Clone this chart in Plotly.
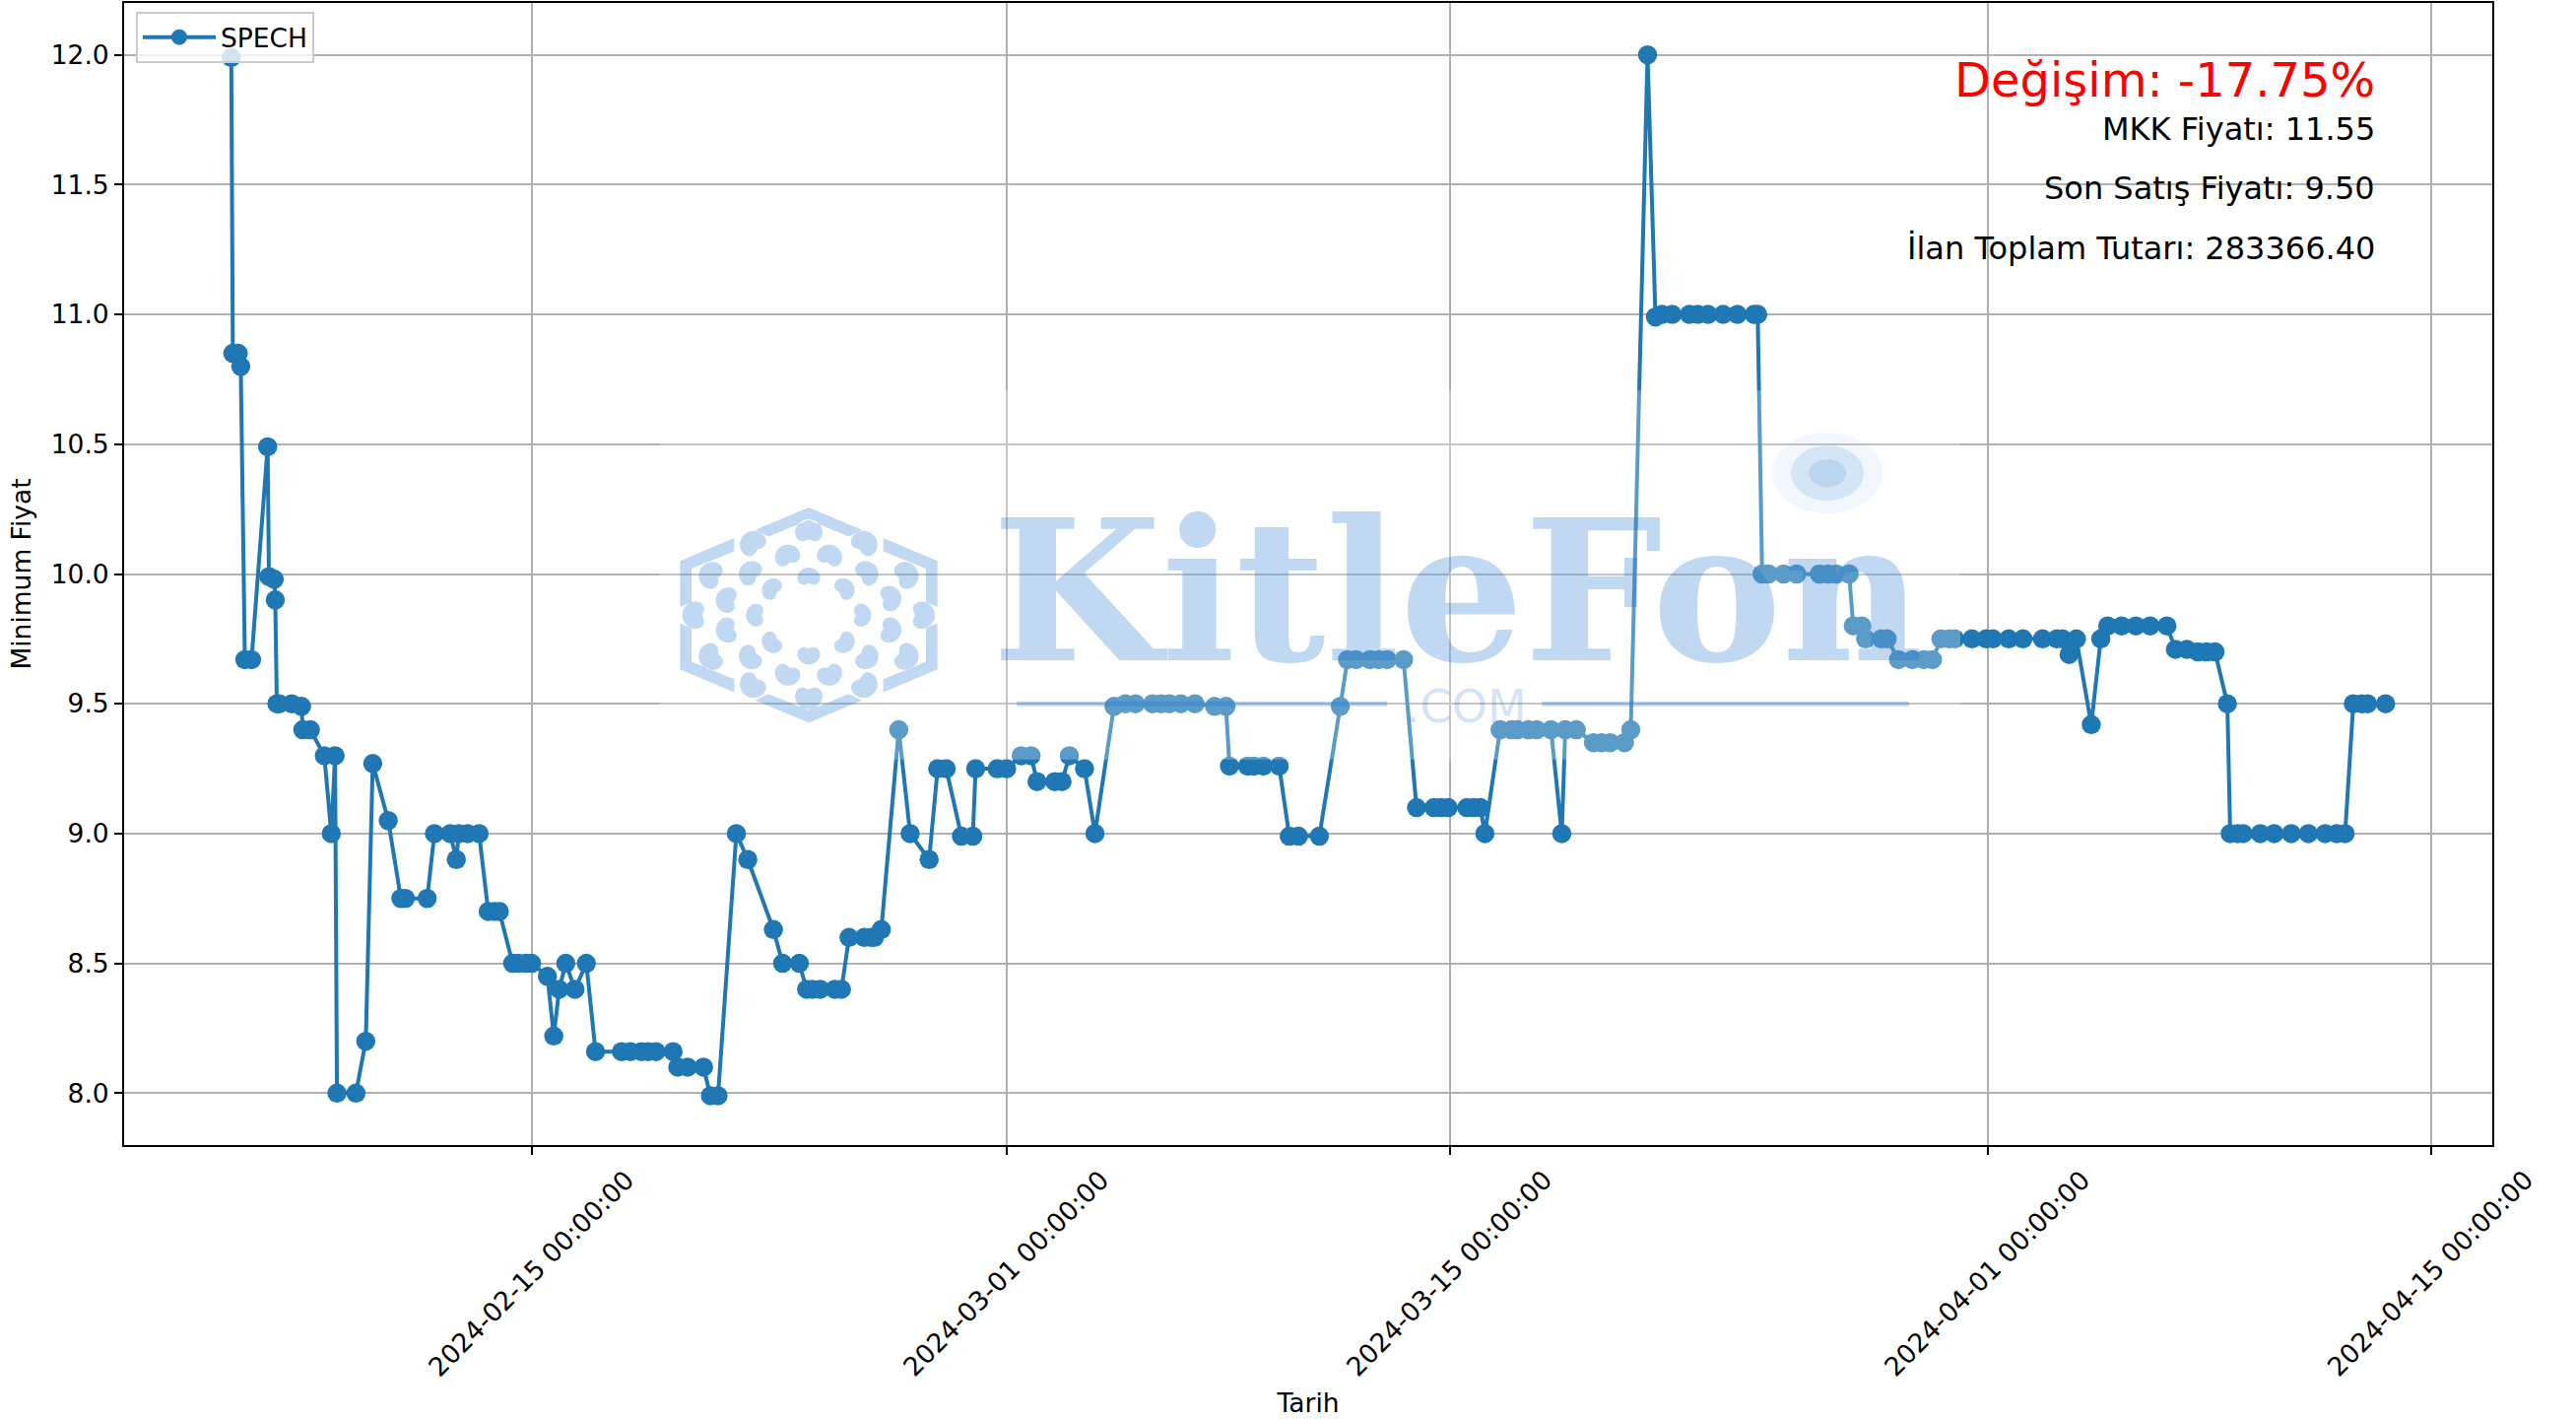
import numpy as np
import pandas as pd
import plotly.graph_objects as go

W, H = 2615, 1440
L, R, T, B = 126, 2530, 1, 1162

# Offsets in days from 2024-02-15 and the minimum price at each point
start_date = "2024-02-15"
days = [
    -9.50, -9.45, -9.28, -9.20, -9.07, -8.86, -8.35, -8.31, -8.14, -8.11, -8.06, -7.98,
    -7.59, -7.28, -7.24, -7.00, -6.56, -6.34, -6.22, -6.16, -5.56, -5.25, -5.03, -4.54,
    -4.14, -4.00, -3.31, -3.08, -2.58, -2.39, -2.31, -2.03, -1.67, -1.38, -1.19, -1.03,
    -0.61, -0.43, -0.19, -0.01, 0.49, 0.69, 0.86, 1.07, 1.36, 1.72, 2.01, 2.83,
    3.11, 3.46, 3.67, 3.92, 4.46, 4.61, 4.92, 5.42, 5.64, 5.88, 6.46, 6.82,
    7.63, 7.92, 8.45, 8.68, 8.86, 9.11, 9.57, 9.78, 10.02, 10.50, 10.71, 10.82,
    11.04, 11.59, 11.95, 12.55, 12.82, 13.09, 13.57, 13.93, 14.02, 14.70, 15.00, 15.46,
    15.77, 15.96, 16.52, 16.75, 16.98, 17.46, 17.79, 18.39, 18.75, 19.07, 19.61, 19.88,
    20.14, 20.50, 20.95, 21.57, 21.93, 22.04, 22.61, 22.82, 23.11, 23.61, 23.93, 24.22,
    24.88, 25.54, 25.77, 26.04, 26.48, 26.75, 27.02, 27.54, 27.95, 28.50, 28.72, 28.95,
    29.54, 29.75, 29.97, 30.11, 30.59, 30.95, 31.13, 31.48, 31.75, 32.20, 32.54, 32.65,
    33.00, 33.54, 33.80, 34.07, 34.52, 34.72, 35.25, 35.50, 35.71, 36.03, 36.57, 36.84,
    37.16, 37.64, 38.09, 38.62, 38.73, 38.87, 39.07, 39.55, 39.96, 40.68, 40.95, 41.21,
    41.62, 41.75, 42.02, 42.14, 42.64, 42.82, 43.18, 43.62, 43.98, 44.25, 44.52, 44.79,
    44.96, 45.50, 45.95, 46.16, 46.66, 47.11, 47.73, 48.18, 48.36, 48.57, 48.80, 49.27,
    49.57, 49.79, 50.23, 50.68, 51.13, 51.66, 51.93, 52.29, 52.64, 52.91, 53.18, 53.57,
    53.66, 53.89, 54.07, 54.61, 55.05, 55.59, 56.13, 56.66, 57.02, 57.29, 57.55, 57.82,
    58.00, 58.57,
]
prices = [
    11.99, 10.85, 10.85, 10.80, 9.67, 9.67, 10.49, 9.99, 9.98, 9.90, 9.50, 9.50,
    9.50, 9.49, 9.40, 9.40, 9.30, 9.00, 9.30, 8.00, 8.00, 8.20, 9.27, 9.05,
    8.75, 8.75, 8.75, 9.00, 9.00, 8.90, 9.00, 9.00, 9.00, 8.70, 8.70, 8.70,
    8.50, 8.50, 8.50, 8.50, 8.45, 8.22, 8.40, 8.50, 8.40, 8.50, 8.16, 8.16,
    8.16, 8.16, 8.16, 8.16, 8.16, 8.10, 8.10, 8.10, 7.99, 7.99, 9.00, 8.90,
    8.63, 8.50, 8.50, 8.40, 8.40, 8.40, 8.40, 8.40, 8.60, 8.60, 8.60, 8.60,
    8.63, 9.40, 9.00, 8.90, 9.25, 9.25, 8.99, 8.99, 9.25, 9.25, 9.25, 9.30,
    9.30, 9.20, 9.20, 9.20, 9.30, 9.25, 9.00, 9.49, 9.50, 9.50, 9.50, 9.50,
    9.50, 9.50, 9.50, 9.49, 9.49, 9.26, 9.26, 9.26, 9.26, 9.26, 8.99, 8.99,
    8.99, 9.49, 9.67, 9.67, 9.67, 9.67, 9.67, 9.67, 9.10, 9.10, 9.10, 9.10,
    9.10, 9.10, 9.10, 9.00, 9.40, 9.40, 9.40, 9.40, 9.40, 9.40, 9.00, 9.40,
    9.40, 9.35, 9.35, 9.35, 9.35, 9.40, 12.00, 10.99, 11.00, 11.00, 11.00, 11.00,
    11.00, 11.00, 11.00, 11.00, 11.00, 10.00, 10.00, 10.00, 10.00, 10.00, 10.00, 10.00,
    10.00, 9.80, 9.80, 9.75, 9.75, 9.75, 9.67, 9.67, 9.67, 9.67, 9.75, 9.75,
    9.75, 9.75, 9.75, 9.75, 9.75, 9.75, 9.75, 9.75, 9.75, 9.69, 9.75, 9.42,
    9.75, 9.80, 9.80, 9.80, 9.80, 9.80, 9.71, 9.71, 9.70, 9.70, 9.70, 9.50,
    9.00, 9.00, 9.00, 9.00, 9.00, 9.00, 9.00, 9.00, 9.00, 9.00, 9.50, 9.50,
    9.50, 9.50,
]
series_name = "SPECH"
x_ticks = ["2024-02-15", "2024-03-01", "2024-03-15", "2024-04-01", "2024-04-15"]
x_tick_labels = [d + " 00:00:00" for d in x_ticks]
info_lines = ["MKK Fiyatı: 11.55", "Son Satış Fiyatı: 9.50", "İlan Toplam Tutarı: 283366.40"]
change_text = "Değişim: -17.75%"

dates = pd.Timestamp(start_date) + pd.to_timedelta(days, unit="D")
x_dates = [d.strftime("%Y-%m-%d %H:%M:%S") for d in dates]


def px(x, y):
    """Page pixel to paper fraction."""
    return (x - L) / (R - L), 1 - (y - T) / (B - T)


def path_of(points):
    out = []
    for i, (x, y) in enumerate(points):
        u, v = px(x, y)
        out.append(("M" if i == 0 else "L") + f"{u:.5f},{v:.5f}")
    return " ".join(out) + " Z"


def logo_pt(zx, zy):
    return 660 + zx / 3, 490 + zy / 3


WM = "rgba(21,111,208,0.27)"
FS = 26.5
shapes = []
# White veil of the watermark picture
vx0, vy0 = px(670, 395)
vx1, vy1 = px(1990, 770)
shapes.append(dict(type="rect", xref="paper", yref="paper", x0=vx0, x1=vx1, y0=vy0, y1=vy1,
                   fillcolor="rgba(255,255,255,0.27)", line_width=0, layer="above"))

# Hexagon outline, in mirrored chevrons
cx, cy = 483, 400
top = [(320, 140), (483, 72), (645, 140), (605, 160), (483, 110), (360, 160)]
side = [(710, 165), (875, 235), (875, 375), (840, 360), (840, 258), (710, 205)]
parts = []
for sy in (1, -1):
    for sx in (1, -1):
        parts.append([logo_pt(cx + sx * (a - cx), cy + sy * (b - cy)) for a, b in side])
    parts.append([logo_pt(a, cy + sy * (b - cy)) for a, b in top])

# Crescents of the rosette
ring_a = [(483, 293), (585, 325), (635, 400), (585, 478), (483, 512), (378, 478), (330, 400), (378, 325)]
ring_b = [(545, 225), (655, 275), (725, 350), (725, 445), (655, 525), (545, 575),
          (420, 575), (310, 525), (240, 445), (240, 355), (310, 275), (420, 225)]
ring_c = [(483, 150), (650, 185), (775, 280), (825, 400), (775, 525), (650, 610),
          (483, 645), (315, 610), (190, 525), (140, 400), (190, 280), (315, 185)]
for ring, rad, depth, spread in ((ring_a, 38, 0.75, 1.3), (ring_b, 40, 0.62, 0.8), (ring_c, 42, 0.55, 0.6)):
    for a, b in ring:
        t0 = np.arctan2(cy - b, cx - a)
        t = np.linspace(-np.pi, np.pi, 60, endpoint=False)
        r = rad * (1 - depth * np.exp(-(t ** 2) / spread))
        parts.append([logo_pt(a + ri * np.cos(ti + t0), b + ri * np.sin(ti + t0)) for ri, ti in zip(r, t)])

shapes.append(dict(type="path", xref="paper", yref="paper", layer="above", line_width=0, fillcolor=WM,
                   path=" ".join(path_of(p) for p in parts)))

# Lines either side of .COM
for a, b in ((1032, 1408), (1565, 1938)):
    u0, v0 = px(a, 711)
    u1, v1 = px(b, 716)
    shapes.append(dict(type="rect", xref="paper", yref="paper", x0=u0, x1=u1, y0=v0, y1=v1,
                       fillcolor=WM, line_width=0, layer="above"))

# Soft dot above the n
for rx, ry, col in ((56, 41, "rgba(21,111,208,0.06)"), (37, 28, "rgba(21,111,208,0.13)"), (19, 14, "rgba(21,111,208,0.13)")):
    u0, v0 = px(1855 - rx, 479 - ry)
    u1, v1 = px(1855 + rx, 479 + ry)
    shapes.append(dict(type="circle", xref="paper", yref="paper", x0=u0, x1=u1, y0=v0, y1=v1,
                       fillcolor=col, line_width=0, layer="above"))

fig = go.Figure(go.Scatter(
    x=x_dates, y=prices, name=series_name, mode="lines+markers",
    line=dict(color="#1f77b4", width=4),
    marker=dict(color="#1f77b4", size=19.5, line=dict(width=0)),
))

annotations = []
for d, lab in zip(x_ticks, x_tick_labels):
    annotations.append(dict(x=d, y=0, xref="x", yref="paper", text=lab, showarrow=False, textangle=-45,
                            xanchor="center", yanchor="middle", yshift=-130, xshift=-1.5,
                            font=dict(size=FS, color="black", family="DejaVu Sans")))


def right_text(text, y, size, color):
    u, v = px(2413, y)
    return dict(x=u, y=v, xref="paper", yref="paper", text=text, showarrow=False, xanchor="right",
                yanchor="middle", font=dict(size=size, color=color, family="DejaVu Sans"))


annotations.append(right_text(change_text, 79, 48, "#ff0000"))
for line, y in zip(info_lines, (129, 189, 250)):
    annotations.append(right_text(line, y, 32, "black"))

u, v = px(1480, 600)
annotations.append(dict(x=u, y=v, xref="paper", yref="paper", text="<b>KitleFon</b>", showarrow=False,
                        xanchor="center", yanchor="middle",
                        font=dict(size=198, color=WM, family="DejaVu Serif")))
u, v = px(1488, 716)
annotations.append(dict(x=u, y=v, xref="paper", yref="paper", text=".COM", showarrow=False,
                        xanchor="center", yanchor="middle",
                        font=dict(size=46, color="rgba(21,111,208,0.2)", family="DejaVu Sans")))

axis_style = dict(showline=True, mirror=True, linecolor="black", linewidth=2, showgrid=True,
                  gridcolor="#b0b0b0", gridwidth=2, zeroline=False, ticks="outside",
                  ticklen=8, tickwidth=2, tickcolor="black",
                  tickfont=dict(size=FS, color="black", family="DejaVu Sans"))

fig.update_layout(
    width=W, height=H, autosize=False,
    margin=dict(l=L, r=W - R, t=T, b=H - B, pad=0),
    paper_bgcolor="white", plot_bgcolor="white",
    font=dict(family="DejaVu Sans", size=FS, color="black"),
    shapes=shapes, annotations=annotations, showlegend=True,
    legend=dict(x=px(138, 10)[0], y=px(138, 10)[1], xanchor="left", yanchor="top",
                bgcolor="rgba(255,255,255,0.8)", bordercolor="#cccccc", borderwidth=2,
                font=dict(size=FS, color="black", family="DejaVu Sans"), itemwidth=74),
    xaxis=dict(axis_style, type="date", range=["2024-02-02 02:45:00", "2024-04-16 22:34:00"],
               tickmode="array", tickvals=x_ticks, showticklabels=False,
               title=dict(text="Tarih", standoff=243, font=dict(size=FS, family="DejaVu Sans"))),
    yaxis=dict(axis_style, range=[7.8, 12.2], tick0=8, dtick=0.5, tickformat=".1f",
               title=dict(text="Minimum Fiyat", standoff=12, font=dict(size=FS, family="DejaVu Sans"))),
)

fig.write_html("out.html", config={"displayModeBar": False},
               post_script="document.body.style.margin='0';document.documentElement.style.overflow='hidden';")
